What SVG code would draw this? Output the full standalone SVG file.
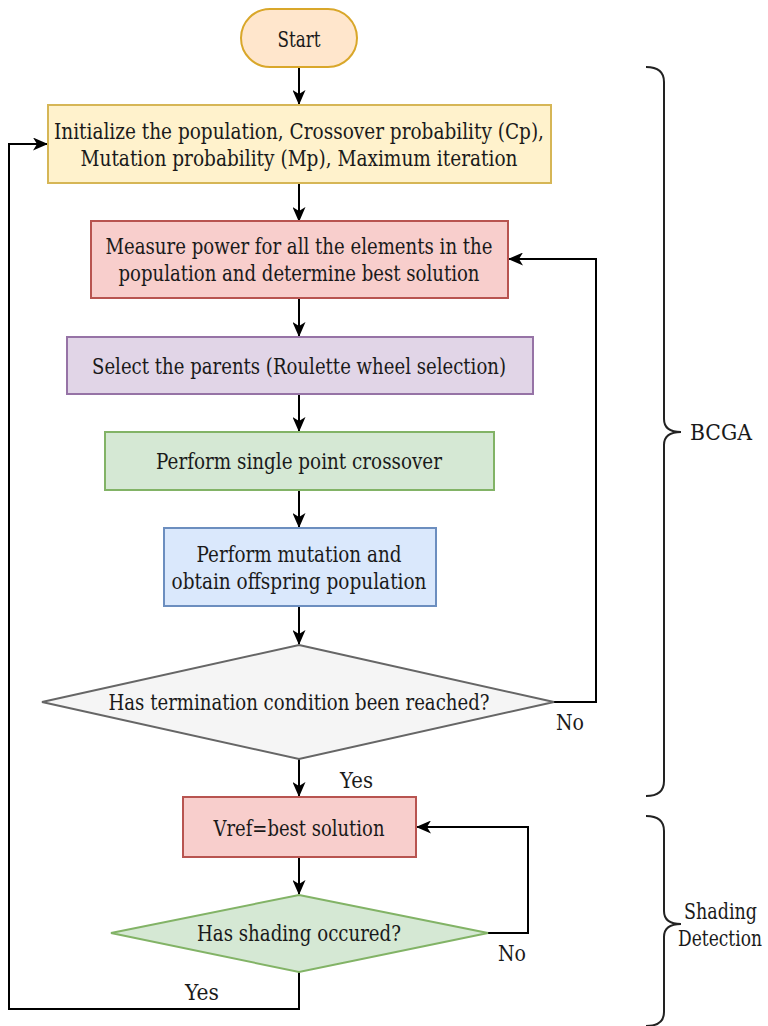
<svg xmlns="http://www.w3.org/2000/svg" width="768" height="1026" viewBox="0 0 768 1026">
  <defs>
    <marker id="arrow" viewBox="0 0 15 13" refX="14" refY="6.5" markerWidth="15" markerHeight="13" markerUnits="userSpaceOnUse" orient="auto">
      <path d="M0,0 L15,6.5 L0,13 L4,6.5 Z" fill="#000"/>
    </marker>
  </defs>
  <style>
    text { font-family: 'DejaVu Serif', 'Liberation Serif', serif; font-size: 22px; fill: #1a1a1a; text-anchor: middle; dominant-baseline: central; }
    .edge { fill: none; stroke: #000; stroke-width: 2; }
    .brace { fill: none; stroke: #222; stroke-width: 2; }
    .lbl { text-anchor: start; }
    .rlbl { text-anchor: end; }
  </style>

  <rect width="768" height="1026" fill="#fff"/>

  <!-- connectors -->
  <g id="connectors">
    <path class="edge" d="M299,67 L299,104" marker-end="url(#arrow)"/>
    <path class="edge" d="M299,184 L299,221" marker-end="url(#arrow)"/>
    <path class="edge" d="M299,298 L299,336" marker-end="url(#arrow)"/>
    <path class="edge" d="M299,394 L299,431" marker-end="url(#arrow)"/>
    <path class="edge" d="M299,490 L299,527" marker-end="url(#arrow)"/>
    <path class="edge" d="M299,606 L299,644" marker-end="url(#arrow)"/>
    <path class="edge" d="M554,702 L596,702 L596,259 L509,259" marker-end="url(#arrow)"/>
    <path class="edge" d="M299,759 L299,796" marker-end="url(#arrow)"/>
    <path class="edge" d="M299,857 L299,894" marker-end="url(#arrow)"/>
    <path class="edge" d="M488,933 L528,933 L528,827 L417,827" marker-end="url(#arrow)"/>
    <path class="edge" d="M299,972 L299,1009 L9,1009 L9,144 L47,144" marker-end="url(#arrow)"/>
    <text class="lbl" x="556" y="722" textLength="28" lengthAdjust="spacingAndGlyphs">No</text>
    <text class="lbl" x="340" y="780" textLength="33" lengthAdjust="spacingAndGlyphs">Yes</text>
    <text class="lbl" x="498" y="953" textLength="28" lengthAdjust="spacingAndGlyphs">No</text>
    <text class="lbl" x="185" y="992" textLength="34" lengthAdjust="spacingAndGlyphs">Yes</text>
  </g>

  <!-- nodes -->
  <g id="start">
    <rect x="241" y="9" width="116" height="58" rx="29" ry="29" fill="#ffe6cc" stroke="#d9a72a" stroke-width="2"/>
    <text x="299" y="39" textLength="43" lengthAdjust="spacingAndGlyphs">Start</text>
  </g>
  <g id="init">
    <rect x="48" y="105" width="503" height="78" fill="#fff2cc" stroke="#d6b656" stroke-width="2"/>
    <text x="299" y="131" textLength="490" lengthAdjust="spacingAndGlyphs">Initialize the population, Crossover probability (Cp),</text>
    <text x="299" y="158" textLength="437" lengthAdjust="spacingAndGlyphs">Mutation probability (Mp), Maximum iteration</text>
  </g>
  <g id="measure">
    <rect x="91" y="221" width="417" height="77" fill="#f8cecc" stroke="#b85450" stroke-width="2"/>
    <text x="299" y="246" textLength="387" lengthAdjust="spacingAndGlyphs">Measure power for all the elements in the</text>
    <text x="299" y="273" textLength="361" lengthAdjust="spacingAndGlyphs">population and determine best solution</text>
  </g>
  <g id="select">
    <rect x="67" y="337" width="466" height="57" fill="#e1d5e7" stroke="#9673a6" stroke-width="2"/>
    <text x="299" y="366" textLength="414" lengthAdjust="spacingAndGlyphs">Select the parents (Roulette wheel selection)</text>
  </g>
  <g id="crossover">
    <rect x="105" y="432" width="389" height="58" fill="#d5e8d4" stroke="#82b366" stroke-width="2"/>
    <text x="299" y="461" textLength="286" lengthAdjust="spacingAndGlyphs">Perform single point crossover</text>
  </g>
  <g id="mutation">
    <rect x="164" y="528" width="272" height="78" fill="#dae8fc" stroke="#6c8ebf" stroke-width="2"/>
    <text x="299" y="554" textLength="205" lengthAdjust="spacingAndGlyphs">Perform mutation and</text>
    <text x="299" y="581" textLength="255" lengthAdjust="spacingAndGlyphs">obtain offspring population</text>
  </g>
  <g id="termination">
    <polygon points="299,645 554,702 299,759 42,702" fill="#f5f5f5" stroke="#666" stroke-width="2"/>
    <text x="299" y="702" textLength="381" lengthAdjust="spacingAndGlyphs">Has termination condition been reached?</text>
  </g>
  <g id="vref">
    <rect x="183" y="797" width="233" height="60" fill="#f8cecc" stroke="#b85450" stroke-width="2"/>
    <text x="299" y="828" textLength="171" lengthAdjust="spacingAndGlyphs">Vref=best solution</text>
  </g>
  <g id="shading">
    <polygon points="299,895 488,933 299,972 111,933" fill="#d5e8d4" stroke="#82b366" stroke-width="2"/>
    <text x="299" y="933" textLength="204" lengthAdjust="spacingAndGlyphs">Has shading occured?</text>
  </g>

  <!-- braces -->
  <g id="bcga-brace">
    <path class="brace" d="M646,67 Q664,67 664,82 L664,419 Q664,432 681,432 Q664,432 664,445 L664,781 Q664,796 646,796"/>
    <text class="rlbl" x="752" y="432" textLength="62" lengthAdjust="spacingAndGlyphs">BCGA</text>
  </g>
  <g id="shading-brace">
    <path class="brace" d="M646,816 Q664,816 664,831 L664,911 Q664,924 681,924 Q664,924 664,937 L664,1012 Q664,1026 646,1026"/>
    <text class="rlbl" x="757" y="911" textLength="73" lengthAdjust="spacingAndGlyphs">Shading</text>
    <text class="rlbl" x="762" y="938" textLength="84" lengthAdjust="spacingAndGlyphs">Detection</text>
  </g>
</svg>
